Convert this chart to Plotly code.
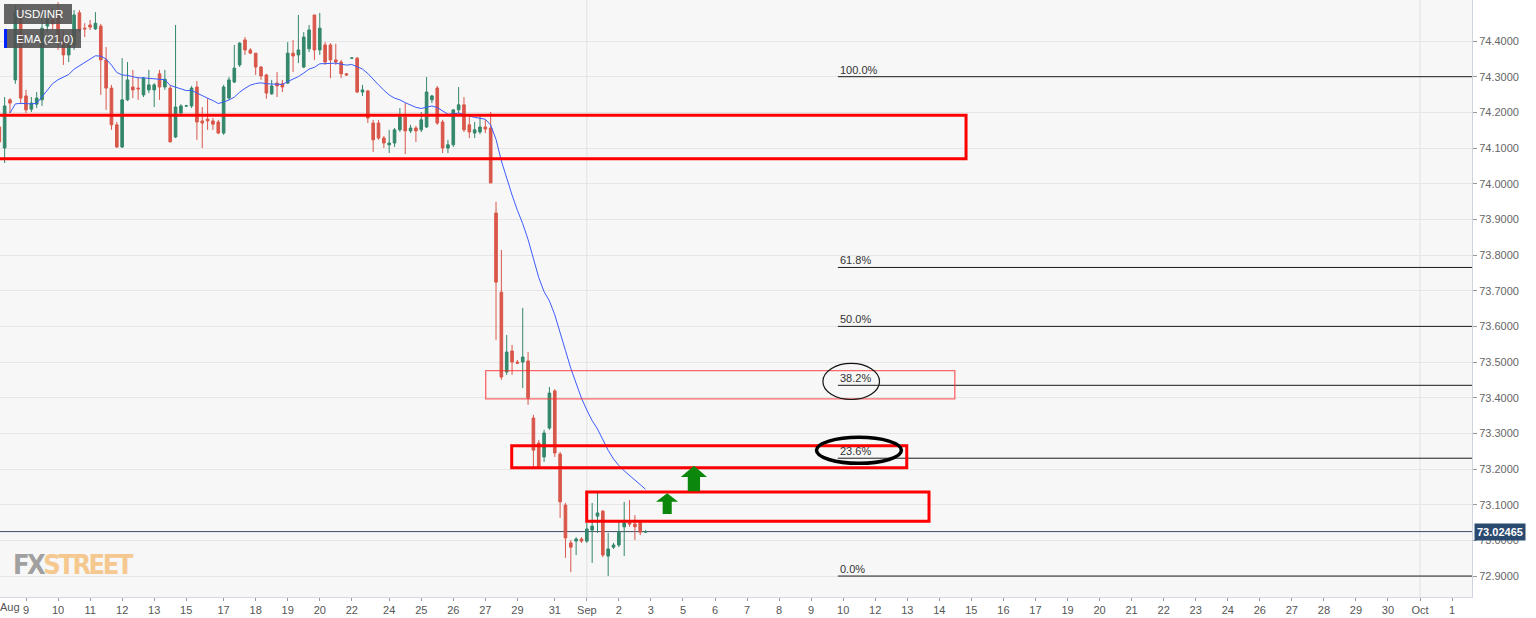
import plotly.graph_objects as go

# ---------------- data (4h candles, USD/INR) ----------------
bar_index = list(range(122))
open_ = [74.159, 74.100, 74.235, 74.291, 74.473, 74.246, 74.209, 74.223, 74.235, 74.442,
         74.459, 74.481, 74.408, 74.361, 74.389, 74.479, 74.436, 74.445, 74.434, 74.442,
         74.347, 74.268, 74.165, 74.103, 74.235, 74.271, 74.268, 74.249, 74.263, 74.263,
         74.308, 74.271, 74.268, 74.131, 74.198, 74.218, 74.218, 74.271, 74.176, 74.181,
         74.176, 74.173, 74.142, 74.240, 74.285, 74.333, 74.403, 74.375, 74.366, 74.327,
         74.305, 74.252, 74.282, 74.280, 74.282, 74.366, 74.361, 74.327, 74.378, 74.473,
         74.375, 74.389, 74.389, 74.347, 74.341, 74.308, 74.352, 74.352, 74.257, 74.260,
         74.170, 74.170, 74.128, 74.109, 74.114, 74.151, 74.187, 74.148, 74.156, 74.151,
         74.159, 74.235, 74.268, 74.173, 74.100, 74.109, 74.207, 74.221, 74.165, 74.142,
         74.145, 74.159, 74.156, 73.918, 73.696, 73.472, 73.531, 73.500, 73.500, 73.503,
         73.343, 73.273, 73.234, 73.315, 73.419, 73.242, 73.099, 72.993, 72.998, 73.004,
         72.998, 73.029, 73.068, 73.082, 72.956, 72.981, 72.987, 73.038, 73.049, 73.046,
         73.049, 73.023]
high_ = [74.184, 74.243, 74.240, 74.501, 74.493, 74.263, 74.243, 74.257, 74.464, 74.473,
         74.493, 74.509, 74.431, 74.417, 74.487, 74.487, 74.450, 74.459, 74.481, 74.448,
         74.383, 74.277, 74.173, 74.352, 74.341, 74.319, 74.299, 74.299, 74.319, 74.282,
         74.319, 74.319, 74.277, 74.445, 74.223, 74.221, 74.274, 74.288, 74.215, 74.240,
         74.184, 74.179, 74.277, 74.299, 74.389, 74.397, 74.411, 74.380, 74.366, 74.330,
         74.308, 74.291, 74.313, 74.291, 74.397, 74.403, 74.473, 74.425, 74.445, 74.473,
         74.479, 74.397, 74.394, 74.392, 74.347, 74.310, 74.355, 74.355, 74.277, 74.263,
         74.179, 74.179, 74.134, 74.151, 74.156, 74.212, 74.226, 74.165, 74.162, 74.201,
         74.299, 74.249, 74.274, 74.179, 74.123, 74.207, 74.271, 74.243, 74.187, 74.173,
         74.193, 74.179, 74.201, 73.949, 73.814, 73.576, 73.548, 73.506, 73.652, 73.528,
         73.352, 73.281, 73.310, 73.430, 73.424, 73.248, 73.105, 73.001, 73.009, 73.009,
         73.049, 73.105, 73.133, 73.085, 73.021, 72.993, 73.057, 73.108, 73.113, 73.071,
         73.052, 73.029]
low_ = [74.095, 74.058, 74.198, 74.280, 74.223, 74.198, 74.201, 74.212, 74.218, 74.425,
        74.431, 74.375, 74.333, 74.341, 74.375, 74.425, 74.411, 74.431, 74.431, 74.249,
        74.207, 74.151, 74.100, 74.100, 74.232, 74.240, 74.235, 74.243, 74.254, 74.215,
        74.235, 74.263, 74.117, 74.128, 74.190, 74.215, 74.212, 74.123, 74.100, 74.151,
        74.151, 74.139, 74.137, 74.235, 74.282, 74.327, 74.361, 74.364, 74.305, 74.291,
        74.238, 74.249, 74.243, 74.257, 74.280, 74.313, 74.338, 74.324, 74.369, 74.347,
        74.361, 74.333, 74.296, 74.333, 74.296, 74.302, 74.350, 74.254, 74.246, 74.170,
        74.089, 74.123, 74.100, 74.086, 74.103, 74.145, 74.083, 74.142, 74.117, 74.145,
        74.156, 74.226, 74.165, 74.086, 74.086, 74.103, 74.198, 74.145, 74.128, 74.128,
        74.139, 74.142, 74.002, 73.562, 73.450, 73.464, 73.464, 73.494, 73.427, 73.380,
        73.206, 73.206, 73.220, 73.310, 73.234, 73.063, 72.951, 72.911, 72.959, 72.993,
        72.993, 72.937, 73.021, 72.953, 72.900, 72.976, 72.981, 72.956, 73.038, 73.001,
        73.015, 73.021]
close_ = [74.117, 74.218, 74.226, 74.481, 74.240, 74.207, 74.226, 74.240, 74.436, 74.462,
          74.448, 74.397, 74.361, 74.389, 74.473, 74.431, 74.434, 74.439, 74.450, 74.347,
          74.268, 74.165, 74.103, 74.235, 74.291, 74.263, 74.266, 74.296, 74.277, 74.277,
          74.271, 74.293, 74.117, 74.215, 74.218, 74.218, 74.268, 74.173, 74.170, 74.176,
          74.167, 74.142, 74.271, 74.291, 74.324, 74.394, 74.375, 74.366, 74.327, 74.302,
          74.254, 74.274, 74.274, 74.271, 74.366, 74.358, 74.375, 74.411, 74.431, 74.375,
          74.436, 74.341, 74.347, 74.341, 74.308, 74.305, 74.352, 74.257, 74.263, 74.184,
          74.123, 74.128, 74.114, 74.114, 74.151, 74.187, 74.148, 74.156, 74.148, 74.179,
          74.257, 74.246, 74.170, 74.100, 74.109, 74.207, 74.221, 74.151, 74.145, 74.151,
          74.159, 74.153, 74.002, 73.724, 73.458, 73.528, 73.500, 73.497, 73.514, 73.399,
          73.253, 73.206, 73.301, 73.413, 73.245, 73.108, 73.007, 72.981, 73.004, 72.998,
          73.032, 73.040, 73.077, 72.959, 72.976, 72.987, 73.023, 73.049, 73.046, 73.038,
          73.023, 73.02465]

ema_period = 21
ema_start_bar = 2
ema_seed = 74.198          # EMA value read at the first bar where the line starts

last_price = 73.02465

tick_pos = [5, 11, 17, 23, 29, 35, 42, 48, 54, 60, 66, 73, 79, 85, 91, 97, 104, 110, 116,
            122, 128, 134, 140, 146, 152, 158, 164, 170, 176, 182, 188, 194, 200, 206, 212,
            218, 224, 230, 236, 242, 248, 254, 260, 266, 272]
tick_text = ["9", "10", "11", "12", "13", "15", "17", "18", "19", "20", "22", "24", "25",
             "26", "27", "29", "31", "Sep", "2", "3", "5", "6", "7", "8", "9", "10", "12", "13",
             "14", "15", "16", "17", "19", "20", "21", "22", "23", "24", "26", "27", "28", "29",
             "30", "Oct", "1"]
first_month_label = "Aug"
month_bars = [110, 266]

y_ticks = [72.9, 73.0, 73.1, 73.2, 73.3, 73.4, 73.5, 73.6, 73.7, 73.8, 73.9, 74.0, 74.1, 74.2, 74.3, 74.4]

fib_pct = [1.0, 0.618, 0.5, 0.382, 0.236, 0.0]
fib_labels = ["100.0%", "61.8%", "50.0%", "38.2%", "23.6%", "0.0%"]
fib_high = 74.30
fib_low = 72.90
fib_start_bar = 157

# ---------------- styling ----------------
GREEN = "#33876a"
RED = "#d9574a"
X_RANGE = [0.131, 275.73]
Y_RANGE = [72.8413, 74.515]
FONT = "Arial, Liberation Sans, sans-serif"

# EMA indicator
ema = [ema_seed]
alpha = 2.0 / (ema_period + 1)
for c in close_[ema_start_bar + 1:]:
    ema.append(ema[-1] + alpha * (c - ema[-1]))

fig = go.Figure()
fig.add_trace(go.Candlestick(
    x=bar_index, open=open_, high=high_, low=low_, close=close_,
    increasing=dict(line=dict(color=GREEN, width=1), fillcolor=GREEN),
    decreasing=dict(line=dict(color=RED, width=1), fillcolor=RED),
    whiskerwidth=0, showlegend=False, hoverinfo="skip"))
fig.add_trace(go.Scatter(
    x=bar_index[ema_start_bar:], y=ema, mode="lines",
    line=dict(color="#3b5bff", width=1), showlegend=False, hoverinfo="skip"))

shapes = []
# month separators
for mb in month_bars:
    shapes.append(dict(type="line", xref="x", yref="paper", x0=mb, x1=mb, y0=0, y1=1,
                       line=dict(color="#e2e2e2", width=1), layer="below"))
# last price line
shapes.append(dict(type="line", xref="paper", yref="y", x0=0, x1=1, y0=last_price, y1=last_price,
                   line=dict(color="#3c4b62", width=1), layer="below"))
# fibonacci levels
fib_levels = [fib_low + p * (fib_high - fib_low) for p in fib_pct]
for lv in fib_levels:
    shapes.append(dict(type="line", xref="x", yref="y", x0=fib_start_bar, x1=X_RANGE[1],
                       y0=lv, y1=lv, line=dict(color="#1a1a1a", width=1)))
# red zones
shapes.append(dict(type="rect", xref="x", yref="y", x0=-3, x1=181.0, y0=74.070, y1=74.192,
                   line=dict(color="#ff0000", width=3)))
shapes.append(dict(type="rect", xref="x", yref="y", x0=91.07, x1=178.9, y0=73.397, y1=73.476,
                   line=dict(color="rgba(255,40,40,0.7)", width=1.3)))
shapes.append(dict(type="rect", xref="x", yref="y", x0=95.94, x1=169.9, y0=73.204, y1=73.265,
                   line=dict(color="#ff0000", width=3)))
shapes.append(dict(type="rect", xref="x", yref="y", x0=109.98, x1=174.07, y0=73.054, y1=73.136,
                   line=dict(color="#ff0000", width=3)))
# ellipses
shapes.append(dict(type="circle", xref="x", yref="y", x0=154.2, x1=164.8, y0=73.395, y1=73.496,
                   line=dict(color="#111111", width=1.2)))
shapes.append(dict(type="circle", xref="x", yref="y", x0=153.0, x1=168.9, y0=73.216, y1=73.289,
                   line=dict(color="#000000", width=3.5)))
# green arrows
shapes.append(dict(type="path", xref="x", yref="y",
                   path="M 125.05,73.132 L 127.1,73.108 L 125.9,73.108 L 125.9,73.074 L 124.2,73.074 "
                        "L 124.2,73.108 L 122.95,73.108 Z",
                   fillcolor="#0b870b", line=dict(width=0)))
shapes.append(dict(type="path", xref="x", yref="y",
                   path="M 130.07,73.209 L 132.5,73.178 L 131.2,73.178 L 131.2,73.138 L 128.9,73.138 "
                        "L 128.9,73.178 L 127.6,73.178 Z",
                   fillcolor="#0b870b", line=dict(width=0)))
# legend boxes (pixel sized, anchored top-left)
shapes.append(dict(type="rect", xref="paper", yref="paper", xsizemode="pixel", ysizemode="pixel",
                   xanchor=0, yanchor=1, x0=4, x1=72, y0=-4, y1=-24,
                   fillcolor="rgba(80,80,80,0.88)", line=dict(width=0)))
shapes.append(dict(type="rect", xref="paper", yref="paper", xsizemode="pixel", ysizemode="pixel",
                   xanchor=0, yanchor=1, x0=4, x1=81, y0=-29, y1=-48,
                   fillcolor="rgba(80,80,80,0.88)", line=dict(width=0)))
shapes.append(dict(type="rect", xref="paper", yref="paper", xsizemode="pixel", ysizemode="pixel",
                   xanchor=0, yanchor=1, x0=4, x1=7, y0=-29, y1=-48,
                   fillcolor="#0022ff", line=dict(width=0)))

annotations = []
for lv, lab in zip(fib_levels, fib_labels):
    annotations.append(dict(x=fib_start_bar, y=lv, xref="x", yref="y", text=lab, showarrow=False,
                            xanchor="left", yanchor="bottom", yshift=-1,
                            font=dict(family=FONT, size=11, color="#333333")))
annotations.append(dict(x=0, y=1, xref="paper", yref="paper", text="USD/INR", showarrow=False,
                        xanchor="left", yanchor="middle", xshift=14, yshift=-14,
                        font=dict(family=FONT, size=11.5, color="#ffffff")))
annotations.append(dict(x=0, y=1, xref="paper", yref="paper", text="EMA (21,0)", showarrow=False,
                        xanchor="left", yanchor="middle", xshift=14, yshift=-38.5,
                        font=dict(family=FONT, size=11.5, color="#ffffff")))
annotations.append(dict(x=0, y=0, xref="paper", yref="paper", text=first_month_label,
                        showarrow=False, xanchor="left", yanchor="top", xshift=-2, yshift=-2,
                        font=dict(family=FONT, size=11, color="#555555")))
annotations.append(dict(x=0, y=0, xref="paper", yref="paper",
                        text="<b><span style='color:#a0a0a0;letter-spacing:-2.5px'>FX</span>"
                             "<span style='color:#f5c88f;letter-spacing:-2.5px'>STREET</span></b>",
                        showarrow=False, xanchor="left", yanchor="bottom", xshift=11, yshift=15,
                        font=dict(family="DejaVu Sans Condensed, Liberation Sans Narrow, Arial", size=27)))
annotations.append(dict(x=1, y=last_price, xref="paper", yref="y", text="<b>73.02465</b>",
                        showarrow=False, xanchor="left", yanchor="middle", xshift=2,
                        bgcolor="#2b4a70", borderpad=2,
                        font=dict(family=FONT, size=11, color="#ffffff")))

fig.update_layout(
    width=1536, height=618, autosize=False,
    margin=dict(l=0, r=64, t=0, b=21),
    paper_bgcolor="#ffffff", plot_bgcolor="#f7f7f7",
    shapes=shapes, annotations=annotations,
    xaxis=dict(range=X_RANGE, tickmode="array", tickvals=tick_pos, ticktext=tick_text,
               showgrid=False, zeroline=False, ticks="outside", ticklen=3, tickcolor="#9a9a9a",
               showline=True, linecolor="#d3d8e2", linewidth=1,
               tickfont=dict(family=FONT, size=11, color="#555555"),
               rangeslider=dict(visible=False), fixedrange=True),
    yaxis=dict(range=Y_RANGE, side="right", tickmode="array", tickvals=y_ticks,
               tickformat=".4f", showgrid=True, gridcolor="#e6e6e6", gridwidth=1, zeroline=False,
               ticks="outside", ticklen=4, tickcolor="#9a9a9a", showline=True,
               linecolor="#cdd4e0", linewidth=1,
               tickfont=dict(family=FONT, size=11, color="#666666"),
               fixedrange=True),
    showlegend=False,
)

fig.write_html("out.html", post_script="document.body.style.margin='0';",
               config={"displayModeBar": False})
